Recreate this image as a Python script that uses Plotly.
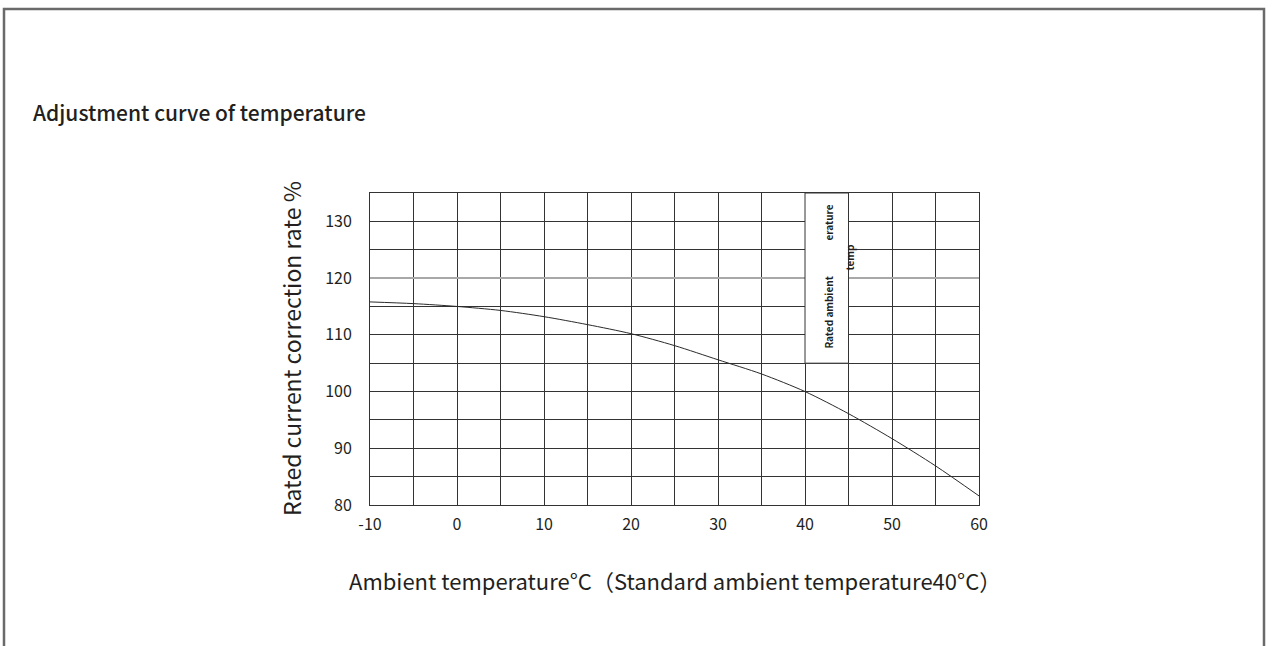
import plotly.graph_objects as go

# Data
temps = [-10, -5, 0, 5, 10, 15, 20, 25, 30, 35, 40, 45, 50, 55, 60]
rates = [115.8, 115.5, 115.0, 114.3, 113.2, 111.8, 110.2, 108.1, 105.6, 103.1, 100.0, 96.1, 91.7, 86.9, 81.6]
x_ticks = [-10, 0, 10, 20, 30, 40, 50, 60]
x_tick_labels = ["-10", "0", "10", "20", "30", "40", "50", "60"]
y_ticks = [80, 90, 100, 110, 120, 130]
y_tick_labels = ["80", "90", "100", "110", "120", "130"]

FONT = "Noto Sans CJK SC"
TXT = "#231f20"
GRID = "#333333"

W, H = 1272, 646
L, R, T, B = 370, 293, 193, 141
PW, PH = W - L - R, H - T - B

def px(p):
    return (p - L) / PW

def py(p):
    return (H - B - p) / PH

fig = go.Figure()
fig.add_trace(go.Scatter(x=temps, y=rates, mode="lines",
                         line=dict(color="#2a2a2a", width=1, shape="spline", smoothing=0.8),
                         hoverinfo="skip", showlegend=False))

axis_common = dict(showline=True, linecolor=GRID, linewidth=1, mirror=True,
                   showgrid=True, gridcolor=GRID, gridwidth=1, zeroline=False,
                   tickfont=dict(family=FONT, size=16, color=TXT),
                   ticks="outside", tickcolor="rgba(0,0,0,0)")

fig.update_xaxes(range=[-10, 60], tickvals=x_ticks, ticktext=x_tick_labels, ticklen=5,
                 minor=dict(dtick=5, tick0=-10, showgrid=True, gridcolor=GRID, gridwidth=1),
                 **axis_common)
fig.update_yaxes(range=[80, 135], tickvals=y_ticks, ticktext=y_tick_labels, ticklen=14,
                 minor=dict(dtick=5, tick0=80, showgrid=True, gridcolor=GRID, gridwidth=1),
                 **axis_common)

shapes = [
    # light 120 line
    dict(type="line", xref="x", yref="y", x0=-10, x1=40, y0=120, y1=120,
         line=dict(color="#a8a8a8", width=2), layer="above"),
    dict(type="line", xref="x", yref="y", x0=45, x1=61.2, y0=120, y1=120,
         line=dict(color="#a8a8a8", width=2), layer="above"),
    # white label box
    dict(type="rect", xref="x", yref="y", x0=40, x1=45, y0=105, y1=135,
         fillcolor="white", line=dict(color=GRID, width=1), layer="above"),
    # outer frame
    dict(type="rect", xref="paper", yref="paper", x0=px(4), x1=px(1264), y0=py(9), y1=py(700),
         fillcolor="rgba(0,0,0,0)", line=dict(color="#6a6a6a", width=2.5), layer="above"),
]

annotations = [
    dict(text="Adjustment curve of temperature", xref="paper", yref="paper",
         x=px(31), y=py(112), xanchor="left", yanchor="middle", showarrow=False,
         font=dict(family=FONT, size=21, color=TXT, weight=500)),
    dict(text="Rated current correction rate %", xref="paper", yref="paper",
         x=px(291), y=py(349), xanchor="center", yanchor="middle", textangle=-90,
         showarrow=False, font=dict(family=FONT, size=23, color=TXT)),
    dict(text="Ambient temperature°C（Standard ambient temperature40°C）", xref="paper", yref="paper",
         x=px(675), y=py(580), xanchor="center", yanchor="middle", showarrow=False,
         font=dict(family=FONT, size=22, color=TXT)),
    dict(text="<b>Rated ambient</b>", xref="x", yref="paper", x=42.6, y=py(312),
         xanchor="center", yanchor="middle", textangle=-90, showarrow=False,
         font=dict(family=FONT, size=10, color=TXT)),
    dict(text="<b>erature</b>", xref="x", yref="paper", x=42.6, y=py(223),
         xanchor="center", yanchor="middle", textangle=-90, showarrow=False,
         font=dict(family=FONT, size=10, color=TXT)),
    dict(text="<b>temp</b>", xref="x", yref="paper", x=45.0, y=py(258),
         xanchor="center", yanchor="middle", textangle=-90, showarrow=False,
         font=dict(family=FONT, size=10, color=TXT)),
]

fig.update_layout(width=W, height=H, margin=dict(l=L, r=R, t=T, b=B, autoexpand=False),
                  paper_bgcolor="white", plot_bgcolor="white",
                  shapes=shapes, annotations=annotations, showlegend=False)

fig.write_html("out.html", config={"displayModeBar": False},
               post_script="document.body.style.margin='0';document.body.style.overflow='hidden';")
